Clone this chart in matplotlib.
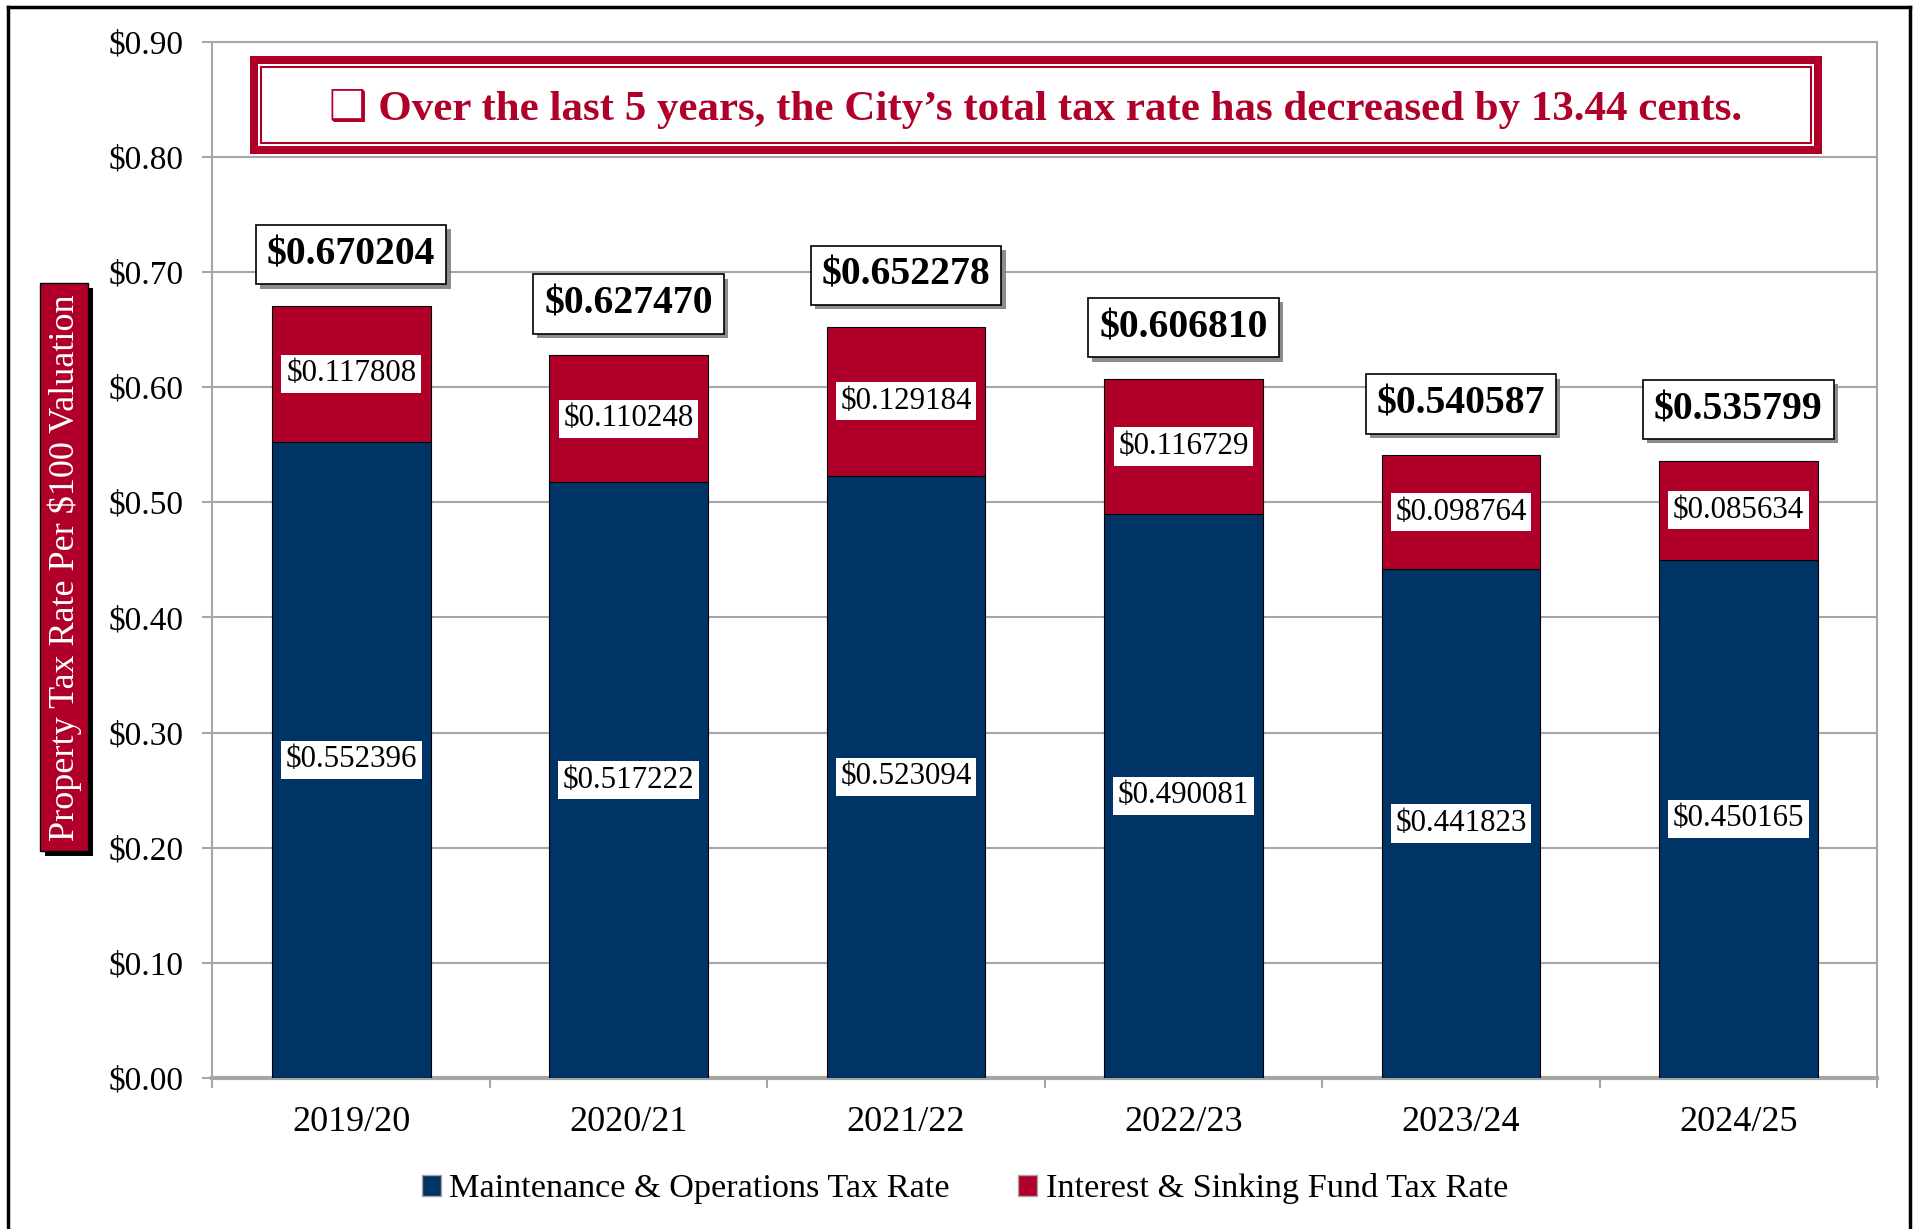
import matplotlib
matplotlib.use('Agg')
import matplotlib.pyplot as plt
import matplotlib.patheffects as pe
from matplotlib.patches import Rectangle, Patch
from matplotlib.lines import Line2D
import numpy as np

######## data
years = ['2019/20', '2020/21', '2021/22', '2022/23', '2023/24', '2024/25']
mo_rate = [0.552396, 0.517222, 0.523094, 0.490081, 0.441823, 0.450165]
is_rate = [0.117808, 0.110248, 0.129184, 0.116729, 0.098764, 0.085634]
total_rate = [0.670204, 0.627470, 0.652278, 0.606810, 0.540587, 0.535799]

y_ticks = [0.0, 0.1, 0.2, 0.3, 0.4, 0.5, 0.6, 0.7, 0.8, 0.9]

title_txt = '\u2751 Over the last 5 years, the City\u2019s total tax rate has decreased by 13.44 cents.'
ylabel_txt = 'Property Tax Rate Per $100 Valuation'
legend_names = ['Maintenance & Operations Tax Rate', 'Interest & Sinking Fund Tax Rate']

navy = '#003366'
red = '#B0002A'
grid_gray = '#A6A6A6'

plt.rcParams['font.family'] = ['Liberation Serif', 'DejaVu Sans']

W, H = 1915, 1229
fig = plt.figure(figsize=(W / 100, H / 100), dpi=100)
ax = fig.add_axes([212.5 / W, 1 - 1078 / H, (1877 - 212.5) / W, (1078 - 41.5) / H])

x = np.arange(len(years))
bw = 0.572
ax.bar(x, mo_rate, bw, color=navy, edgecolor='black', linewidth=0.8, zorder=3)
ax.bar(x, is_rate, bw, bottom=mo_rate, color=red, edgecolor='black', linewidth=0.8, zorder=3)

ax.set_xlim(-0.5, len(years) - 0.5)
ax.set_ylim(0, 0.9)
ax.set_yticks(y_ticks)
ax.set_yticklabels(['${:.2f}'.format(v) for v in y_ticks], fontsize=24)
ax.yaxis.grid(True, color=grid_gray, linewidth=1.5, zorder=0)
ax.set_axisbelow(True)

# category labels at centres, tick marks at boundaries
ax.set_xticks(x)
ax.set_xticklabels(years, fontsize=26)
ax.set_xticks(np.arange(-0.5, len(years)), minor=True)
ax.tick_params(axis='x', which='major', length=0, pad=20)
ax.tick_params(axis='x', which='minor', length=7, width=1.5, color=grid_gray)
ax.tick_params(axis='y', length=7, width=1.5, color=grid_gray, pad=14)

for s in ['left', 'right', 'top']:
    ax.spines[s].set_color(grid_gray)
    ax.spines[s].set_linewidth(1.5)
ax.spines['bottom'].set_color(grid_gray)
ax.spines['bottom'].set_linewidth(3)

# segment labels
for i in range(len(years)):
    ax.text(x[i], mo_rate[i] / 2, '${:.6f}'.format(mo_rate[i]), ha='center', va='center',
            fontsize=22.3, zorder=5,
            bbox=dict(boxstyle='square,pad=0.15', facecolor='white', edgecolor='none'))
    ax.text(x[i], mo_rate[i] + is_rate[i] / 2, '${:.6f}'.format(is_rate[i]), ha='center', va='center',
            fontsize=22.3, zorder=5,
            bbox=dict(boxstyle='square,pad=0.15', facecolor='white', edgecolor='none'))
    t = ax.annotate('${:.6f}'.format(total_rate[i]), (x[i], total_rate[i]), xytext=(0, 37),
                    textcoords='offset points', ha='center', va='center',
                    fontsize=28.5, fontweight='bold', zorder=6,
                    bbox=dict(boxstyle='square,pad=0.28', facecolor='white', edgecolor='black', linewidth=1.2))
    t.get_bbox_patch().set_path_effects([pe.SimplePatchShadow(offset=(3, -3), shadow_rgbFace='#808080', alpha=0.9),
                                         pe.Normal()])

# title box
def fig_rect(x0, y0, x1, y1, **kw):
    r = Rectangle((x0 / W, 1 - y1 / H), (x1 - x0) / W, (y1 - y0) / H, transform=fig.transFigure, **kw)
    fig.patches.append(r)
    return r

fig_rect(250, 56, 1822, 154, facecolor=red, edgecolor='none', zorder=10)
fig_rect(258, 64, 1814, 146, facecolor='white', edgecolor='none', zorder=11)
fig_rect(261, 67, 1811, 143, facecolor='white', edgecolor=red, linewidth=1.5, zorder=12)
fig.text(1036 / W, 1 - 109 / H, title_txt, ha='center', va='center', color=red,
         fontsize=31, fontweight='bold', zorder=13)

# y label box with shadow
fig_rect(45, 288, 93, 856, facecolor='black', edgecolor='none', zorder=10)
fig_rect(40, 283, 88, 851, facecolor=red, edgecolor='black', linewidth=1, zorder=11)
fig.text(65 / W, 1 - 568 / H, ylabel_txt, rotation=90, ha='center', va='center', color='white',
         fontsize=26, zorder=12)

# legend
handles = [Patch(facecolor=navy, edgecolor=grid_gray), Patch(facecolor=red, edgecolor=grid_gray)]
fig.legend(handles, legend_names, loc='center', bbox_to_anchor=(965 / W, 1 - 1189 / H), ncol=2,
           frameon=False, fontsize=24.7, handlelength=0.55, handleheight=0.55, handletextpad=0.25,
           columnspacing=2.0)

# outer border
bl, br, bt = 8 / W, 1910 / W, 1 - 7 / H
fig.lines.append(Line2D([bl, bl], [-0.01, bt], transform=fig.transFigure, color='black', linewidth=2.5))
fig.lines.append(Line2D([bl, br], [bt, bt], transform=fig.transFigure, color='black', linewidth=2.5))
fig.lines.append(Line2D([br, br], [-0.01, bt], transform=fig.transFigure, color='black', linewidth=2.5))

fig.savefig('out.png', dpi=100)
